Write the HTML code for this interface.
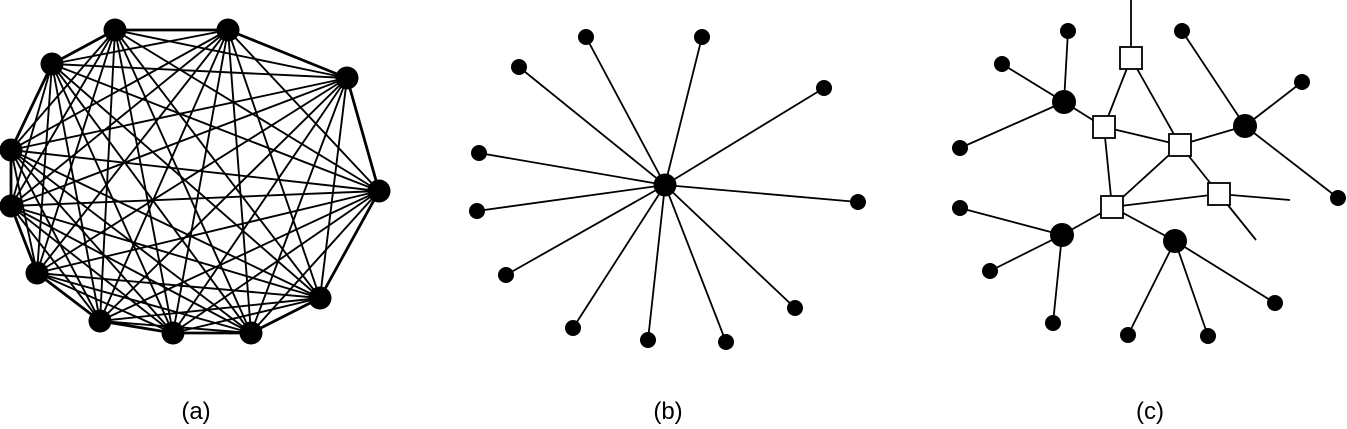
<!DOCTYPE html>
<html><head><meta charset="utf-8"><style>
html,body{margin:0;padding:0;background:#fff;}
svg{display:block;}
text{font-family:"Liberation Sans",sans-serif;font-size:24px;fill:#000;}
</style></head><body>
<svg id="fig" width="1347" height="429" viewBox="0 0 1347 429">
<g id="ga"></g>
<g id="gb"></g>
<g id="gc"></g>
<text x="196" y="419" text-anchor="middle">(a)</text>
<text x="668" y="419" text-anchor="middle">(b)</text>
<text x="1150" y="419" text-anchor="middle">(c)</text>
</svg>
<script>
const NS="http://www.w3.org/2000/svg";
const aNodes=[[115,30],[228,30],[347,78],[379,191],[320,298],[251,333],[173,333],[100,321],[37,273],[11,206],[11,150],[52,64]];
const bCenter=[665,185];
const bLeaves=[[586,37],[702,37],[519,67],[824,88],[479,153],[858,202],[477,211],[506,275],[795,308],[573,328],[648,340],[726,342]];
const cSquares=[[1131,58],[1104,127],[1180,145],[1112,207],[1219,194]];
const cHubs=[[1064,102],[1245,126],[1062,235],[1175,241]];
const cLeaves=[[1068,31,0],[1002,64,0],[960,148,0],[1182,31,1],[1302,82,1],[1338,198,1],[960,208,2],[990,271,2],[1053,323,2],[1128,335,3],[1208,336,3],[1275,303,3]];
const cSqEdges=[[0,1],[0,2],[1,2],[1,3],[2,3],[2,4],[3,4]];
const cSqHub=[[1,0],[2,1],[3,2],[3,3]];
const cStubs=[[0,1131,0],[4,1290,200],[4,1256,240]];
function line(g,x1,y1,x2,y2,w,name){const l=document.createElementNS(NS,'line');
l.setAttribute('x1',x1);l.setAttribute('y1',y1);l.setAttribute('x2',x2);l.setAttribute('y2',y2);
l.setAttribute('stroke','#000');l.setAttribute('stroke-width',w);


g.appendChild(l);}
function circ(g,x,y,r,name){const c=document.createElementNS(NS,'circle');
c.setAttribute('cx',x);c.setAttribute('cy',y);c.setAttribute('r',r);c.setAttribute('fill','#000');


g.appendChild(c);}
const ga=document.getElementById('ga');
for(let i=0;i<aNodes.length;i++)for(let j=i+1;j<aNodes.length;j++){
 const adj=(j-i===1)||(i===0&&j===aNodes.length-1);
 line(ga,aNodes[i][0],aNodes[i][1],aNodes[j][0],aNodes[j][1],adj?2.8:1.9,'edge-a');}
aNodes.forEach(p=>circ(ga,p[0],p[1],11.5,'node-a'));
const gb=document.getElementById('gb');
bLeaves.forEach(p=>line(gb,bCenter[0],bCenter[1],p[0],p[1],1.8,'spoke-b'));
bLeaves.forEach(p=>circ(gb,p[0],p[1],8,'leaf-b'));
circ(gb,bCenter[0],bCenter[1],11.5,'center-b');
const gc=document.getElementById('gc');
cStubs.forEach(s=>line(gc,cSquares[s[0]][0],cSquares[s[0]][1],s[1],s[2],1.8,'stub-edge-c'));
cSqEdges.forEach(e=>line(gc,cSquares[e[0]][0],cSquares[e[0]][1],cSquares[e[1]][0],cSquares[e[1]][1],1.8,'router-edge-c'));
cSqHub.forEach(e=>line(gc,cSquares[e[0]][0],cSquares[e[0]][1],cHubs[e[1]][0],cHubs[e[1]][1],1.8,'hub-edge-c'));
cLeaves.forEach(p=>line(gc,p[0],p[1],cHubs[p[2]][0],cHubs[p[2]][1],1.8,'leaf-edge-c'));
cSquares.forEach(p=>{const r=document.createElementNS(NS,'rect');
 r.setAttribute('x',p[0]-11);r.setAttribute('y',p[1]-11);r.setAttribute('width',22);r.setAttribute('height',22);
 r.setAttribute('fill','#fff');r.setAttribute('stroke','#000');r.setAttribute('stroke-width',1.8);
 
 
 gc.appendChild(r);});
cHubs.forEach(p=>circ(gc,p[0],p[1],12,'hub-c'));
cLeaves.forEach(p=>circ(gc,p[0],p[1],8,'leaf-c'));
</script>
</body></html>
